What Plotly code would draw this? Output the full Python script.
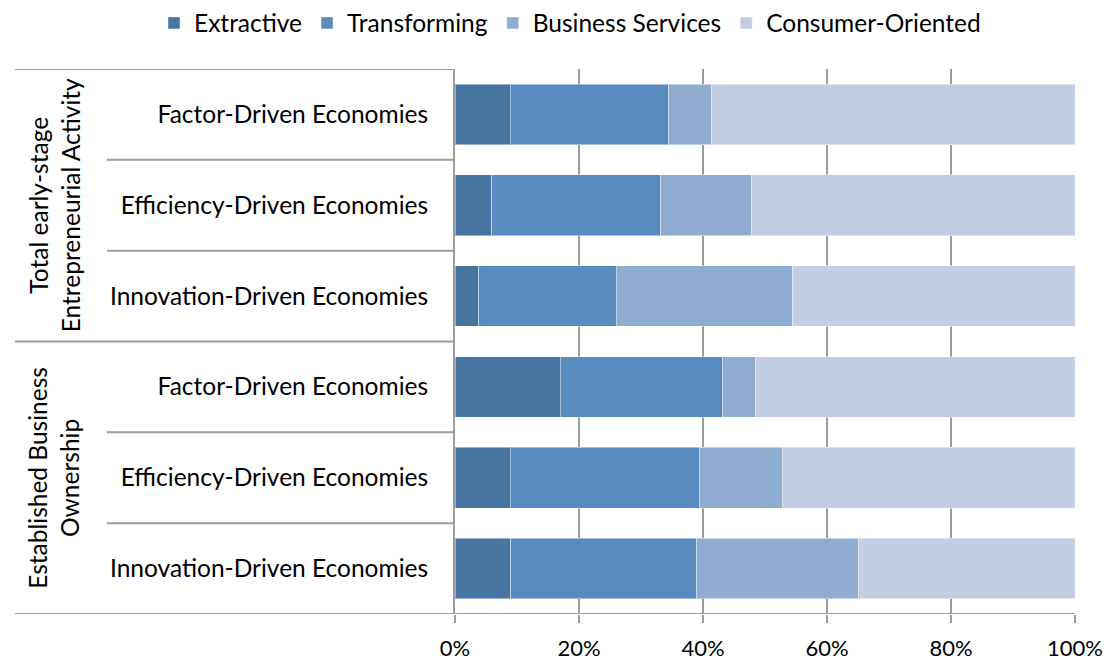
import plotly.graph_objects as go

# Sector distribution (% of activity) by economic development phase
rows = [
    "Factor-Driven Economies",
    "Efficiency-Driven Economies",
    "Innovation-Driven Economies",
    "Factor-Driven Economies",
    "Efficiency-Driven Economies",
    "Innovation-Driven Economies",
]
groups = ["Total early-stage<br>Entrepreneurial Activity", "Established Business<br>Ownership"]

extractive = [8.9, 5.9, 3.8, 17.0, 8.9, 9.0]
transforming = [25.6, 27.3, 22.2, 26.2, 30.6, 30.0]
business_services = [6.9, 14.7, 28.5, 5.3, 13.3, 26.1]
consumer_oriented = [58.6, 52.1, 45.5, 51.5, 47.2, 34.9]

series = [
    ("Extractive", extractive, "#4776a2"),
    ("Transforming", transforming, "#588bbf"),
    ("Business Services", business_services, "#8fadd1"),
    ("Consumer-Oriented", consumer_oriented, "#c3cee2"),
]

xticks = [0, 20, 40, 60, 80, 100]
FONT = "Lato"
LABEL_SIZE = 24.5
GRID = "#9c9c9c"
ypos = list(range(len(rows)))

W, H = 1112, 662
ML, MR, MT, MB = 455, 37, 69, 48
PW, PH = W - ML - MR, H - MT - MB

fig = go.Figure()
for name, vals, color in series:
    fig.add_trace(go.Bar(
        y=ypos, x=vals, name=name, orientation="h", width=0.667,
        marker=dict(color=color, line=dict(color="rgba(255,255,255,0.45)", width=1)),
    ))

# frame lines of the two-level category axis
L_OUT = (15 - ML) / PW
L_IN = (107 - ML) / PW
line = dict(color=GRID, width=2)
shapes = [
    dict(type="line", xref="paper", yref="y", x0=L_OUT, x1=0, y0=-0.5, y1=-0.5, line=line),
    dict(type="line", xref="paper", yref="y", x0=L_OUT, x1=0, y0=2.5, y1=2.5, line=line),
    dict(type="line", xref="paper", yref="y", x0=L_OUT, x1=1, y0=5.5, y1=5.5, line=line),
]
for yb in [0.5, 1.5, 3.5, 4.5]:
    shapes.append(dict(type="line", xref="paper", yref="y", x0=L_IN, x1=0, y0=yb, y1=yb, line=line))

annotations = [
    dict(text=g, xref="paper", yref="y", x=(54 - ML) / PW, y=yc,
         textangle=-90, showarrow=False,
         font=dict(family=FONT, size=LABEL_SIZE, color="#000"),
         xanchor="center", yanchor="middle")
    for g, yc in zip(groups, [1.0, 4.0])
]

fig.update_layout(
    barmode="stack",
    width=W, height=H,
    margin=dict(l=ML, r=MR, t=MT, b=MB, autoexpand=False),
    paper_bgcolor="white", plot_bgcolor="white",
    font=dict(family=FONT, size=22, color="#000"),
    shapes=shapes,
    annotations=annotations,
    legend=dict(orientation="h", xref="paper", yref="paper",
                x=(154 - ML) / PW, xanchor="left",
                y=(H - MB - 23) / PH, yanchor="middle",
                font=dict(family=FONT, size=LABEL_SIZE), itemwidth=30,
                traceorder="normal"),
    xaxis=dict(range=[0, 100], tickvals=xticks, ticktext=[f"{v}%" for v in xticks],
               showgrid=True, gridcolor=GRID, gridwidth=2, zeroline=False,
               ticks="outside", ticklen=8, tickwidth=2, tickcolor=GRID,
               ticklabelstandoff=7,
               showline=False, fixedrange=True, automargin=False),
    yaxis=dict(range=[5.5, -0.5], tickvals=ypos, ticktext=rows,
               tickfont=dict(family=FONT, size=LABEL_SIZE),
               showgrid=False, zeroline=False, ticks="", showline=True,
               linecolor=GRID, linewidth=2, ticklabelstandoff=20,
               fixedrange=True, automargin=False),
)

fig.write_html("out.html")
